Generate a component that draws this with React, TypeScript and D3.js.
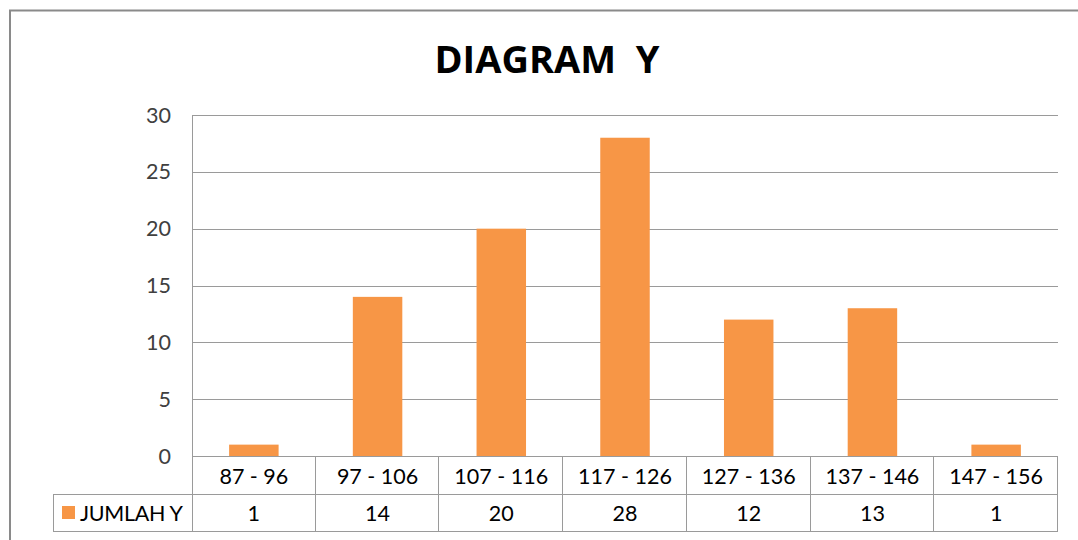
import React from "react";
import * as d3 from "d3";

const categories = ["87 - 96", "97 - 106", "107 - 116", "117 - 126", "127 - 136", "137 - 146", "147 - 156"];
const values = [1, 14, 20, 28, 12, 13, 1];
const yTicks = [0, 5, 10, 15, 20, 25, 30];
const seriesName = "JUMLAH Y";
const title = "DIAGRAM  Y";

export default function App() {
  const W = 1078, H = 540;
  const left = 192, right = 1058, top = 115, bottom = 456;
  const rowH = 38;
  const x = d3.scaleBand<string>().domain(categories).range([left, right]).paddingInner(0.6).paddingOuter(0.3);
  const xb = d3.scaleBand<string>().domain(categories).range([left, right]);
  const y = d3.scaleLinear().domain([0, 30]).range([bottom, top]);
  const font = "Lato, 'Open Sans', sans-serif";
  const grid = "#9a9a9a";
  const color = "#F79646";
  const fs = 21.5;
  return (
    <svg width={W} height={H} style={{ position: "absolute", left: 0, top: 0 }}>
      <rect x={0} y={0} width={W} height={H} fill="#fff" />
      <rect x={10} y={10.5} width={W + 20} height={H + 20} fill="none" stroke="#8a8a8a" strokeWidth={2} />
      <text x={547} y={73} textAnchor="middle" fontFamily="'Open Sans', sans-serif" fontWeight="bold" fontSize={38} fill="#000" style={{ whiteSpace: "pre" }}>{title}</text>
      {yTicks.map(t => (
        <g key={t}>
          {t > 0 && <line x1={left} x2={right} y1={Math.round(y(t)) + 0.5} y2={Math.round(y(t)) + 0.5} stroke={grid} strokeWidth={1} />}
          <text x={171} y={y(t)} dy="0.35em" textAnchor="end" fontFamily={font} fontSize={fs} fill="#404040">{t}</text>
        </g>
      ))}
      <line x1={left + 0.5} x2={left + 0.5} y1={top} y2={bottom + 2 * rowH} stroke={grid} />
      {categories.map((c, i) => (
        <rect key={c} x={x(c)} y={y(values[i])} width={x.bandwidth()} height={bottom - y(values[i])} fill={color} />
      ))}
      {/* table */}
      <line x1={left} x2={right} y1={bottom + 0.5} y2={bottom + 0.5} stroke={grid} />
      <line x1={53} x2={right} y1={bottom + rowH + 0.5} y2={bottom + rowH + 0.5} stroke={grid} />
      <line x1={53} x2={right} y1={bottom + 2 * rowH - 0.5} y2={bottom + 2 * rowH - 0.5} stroke={grid} />
      <line x1={53.5} x2={53.5} y1={bottom + rowH} y2={bottom + 2 * rowH} stroke={grid} />
      {categories.map((c, i) => (
        <g key={c}>
          <line x1={Math.round(xb(c)! + xb.bandwidth()) - 0.5} x2={Math.round(xb(c)! + xb.bandwidth()) - 0.5} y1={bottom} y2={bottom + 2 * rowH} stroke={grid} />
          <text x={xb(c)! + xb.bandwidth() / 2} y={bottom + rowH / 2 + 1} dy="0.35em" textAnchor="middle" fontFamily={font} fontSize={fs} fill="#000">{c}</text>
          <text x={xb(c)! + xb.bandwidth() / 2} y={bottom + rowH * 1.5} dy="0.35em" textAnchor="middle" fontFamily={font} fontSize={fs} fill="#000">{values[i]}</text>
        </g>
      ))}
      <rect x={62} y={506} width={13} height={13} fill={color} />
      <text x={80} y={bottom + rowH * 1.5} dy="0.35em" fontFamily={font} fontSize={fs} fill="#000" letterSpacing={-0.3}>{seriesName}</text>
    </svg>
  );
}
